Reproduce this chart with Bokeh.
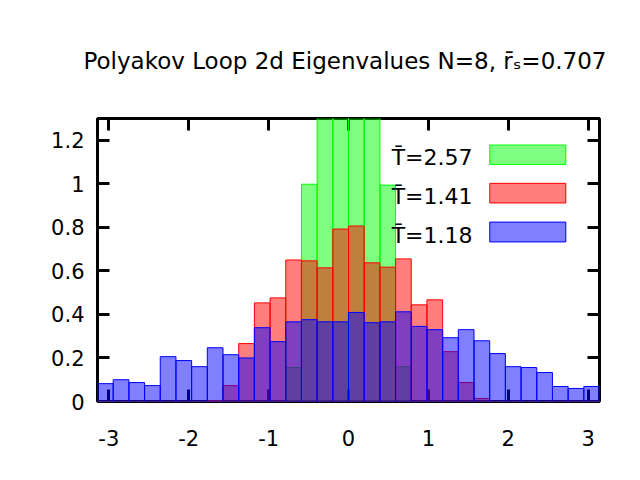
import numpy as np
from bokeh.plotting import figure
from bokeh.models import Range1d, FixedTicker, LinearAxis, Label, ColumnDataSource, Title
from bokeh.embed import file_html
from bokeh.resources import INLINE

# ---- data ----
n_bins = 32
edges = np.linspace(-np.pi, np.pi, n_bins + 1)

hist_T257 = [0, 0, 0, 0, 0, 0, 0, 0, 0, 0, 0, 0, 0.156, 0.998, 1.7, 2.0,
             2.0, 1.7, 0.994, 0.16, 0, 0, 0, 0, 0, 0, 0, 0, 0, 0, 0, 0]
hist_T141 = [0, 0, 0, 0, 0, 0, 0, 0.004, 0.073, 0.266, 0.453, 0.476, 0.65, 0.646, 0.614, 0.792,
             0.806, 0.637, 0.617, 0.655, 0.444, 0.467, 0.229, 0.087, 0.014, 0, 0, 0, 0, 0, 0, 0]
hist_T118 = [0.082, 0.10, 0.087, 0.073, 0.206, 0.188, 0.16, 0.247, 0.215, 0.20, 0.339, 0.275, 0.366, 0.376, 0.366, 0.366,
             0.409, 0.362, 0.366, 0.412, 0.345, 0.33, 0.293, 0.33, 0.279, 0.22, 0.16, 0.156, 0.133, 0.069, 0.06, 0.069]

series_labels = ["T\u0304=2.57", "T\u0304=1.41", "T\u0304=1.18"]
series_colors = ["#00ff00", "#ff0000", "#0000ff"]
series_values = [hist_T257, hist_T141, hist_T118]

x_ticks = [-3, -2, -1, 0, 1, 2, 3]
x_tick_labels = ["-3", "-2", "-1", "0", "1", "2", "3"]
y_ticks = [0, 0.2, 0.4, 0.6, 0.8, 1, 1.2]
y_tick_labels = ["0", "0.2", "0.4", "0.6", "0.8", "1", "1.2"]

title_text = "Polyakov Loop 2d Eigenvalues N=8, r\u0304\u209b=0.707"

FONT = "DejaVu Sans"

p = figure(width=624, height=464, output_backend="svg", toolbar_location=None,
           x_range=Range1d(-np.pi, np.pi), y_range=Range1d(0, 1.3),
           min_border_left=97, min_border_right=25, min_border_top=116, min_border_bottom=63,
           x_axis_location=None, y_axis_location=None, title=None)
p.grid.visible = False
p.outline_line_color = "black"
p.outline_line_width = 3
p.background_fill_color = "white"
p.border_fill_color = "white"

for vals, col in zip(series_values, series_colors):
    src = ColumnDataSource(dict(left=edges[:-1], right=edges[1:], top=vals, bottom=[0] * n_bins))
    p.quad(left="left", right="right", top="top", bottom="bottom", source=src,
           fill_color=col, fill_alpha=0.5, line_color=col, line_width=1)

def tick_axis(ticks):
    ax = LinearAxis(ticker=FixedTicker(ticks=ticks))
    ax.axis_line_color = None
    ax.major_tick_in = 12
    ax.major_tick_out = 0
    ax.major_tick_line_width = 3
    ax.major_tick_line_color = "black"
    ax.minor_tick_line_color = None
    ax.major_label_standoff = 0
    ax.major_label_text_font_size = "0px"
    ax.major_label_text_alpha = 0
    ax.level = "underlay"
    return ax

def label_axis(ticks, labels, standoff):
    ax = LinearAxis(ticker=FixedTicker(ticks=ticks))
    ax.axis_line_color = None
    ax.major_tick_line_color = None
    ax.minor_tick_line_color = None
    ax.major_tick_in = 0
    ax.major_tick_out = 0
    ax.major_label_standoff = standoff
    ax.major_label_text_font = FONT
    ax.major_label_text_font_size = "21px"
    ax.major_label_text_color = "black"
    ax.major_label_overrides = {t: s for t, s in zip(ticks, labels)}
    return ax

p.add_layout(tick_axis(x_ticks), "below")
p.add_layout(label_axis(x_ticks, x_tick_labels, 28), "below")
p.add_layout(tick_axis(x_ticks), "above")
p.add_layout(tick_axis(y_ticks), "left")
p.add_layout(label_axis(y_ticks, y_tick_labels, 13), "left")
p.add_layout(tick_axis(y_ticks), "right")

# ---- title ----
t = Title(text=title_text, align="left", offset=-14, standoff=90,
          text_font=FONT, text_font_size="23px", text_font_style="normal", text_color="black")
p.add_layout(t, "above")

# ---- legend (label left of swatch) ----
leg_text_x = 1.552
leg_box_x = (1.768, 2.72)
leg_rows = [(1.089, 1.178), (0.912, 1.002), (0.733, 0.824)]
for lab, col, (yb, yt) in zip(series_labels, series_colors, leg_rows):
    p.add_layout(Label(x=leg_text_x, y=yb + 0.03, text=lab, text_align="right", text_baseline="alphabetic",
                       text_font=FONT, text_font_size="22px", text_color="black"))
    p.quad(left=[leg_box_x[0]], right=[leg_box_x[1]], bottom=[yb], top=[yt],
           fill_color=col, fill_alpha=0.5, line_color=col, line_width=1)

open("out.html", "w").write(file_html(p, INLINE))
